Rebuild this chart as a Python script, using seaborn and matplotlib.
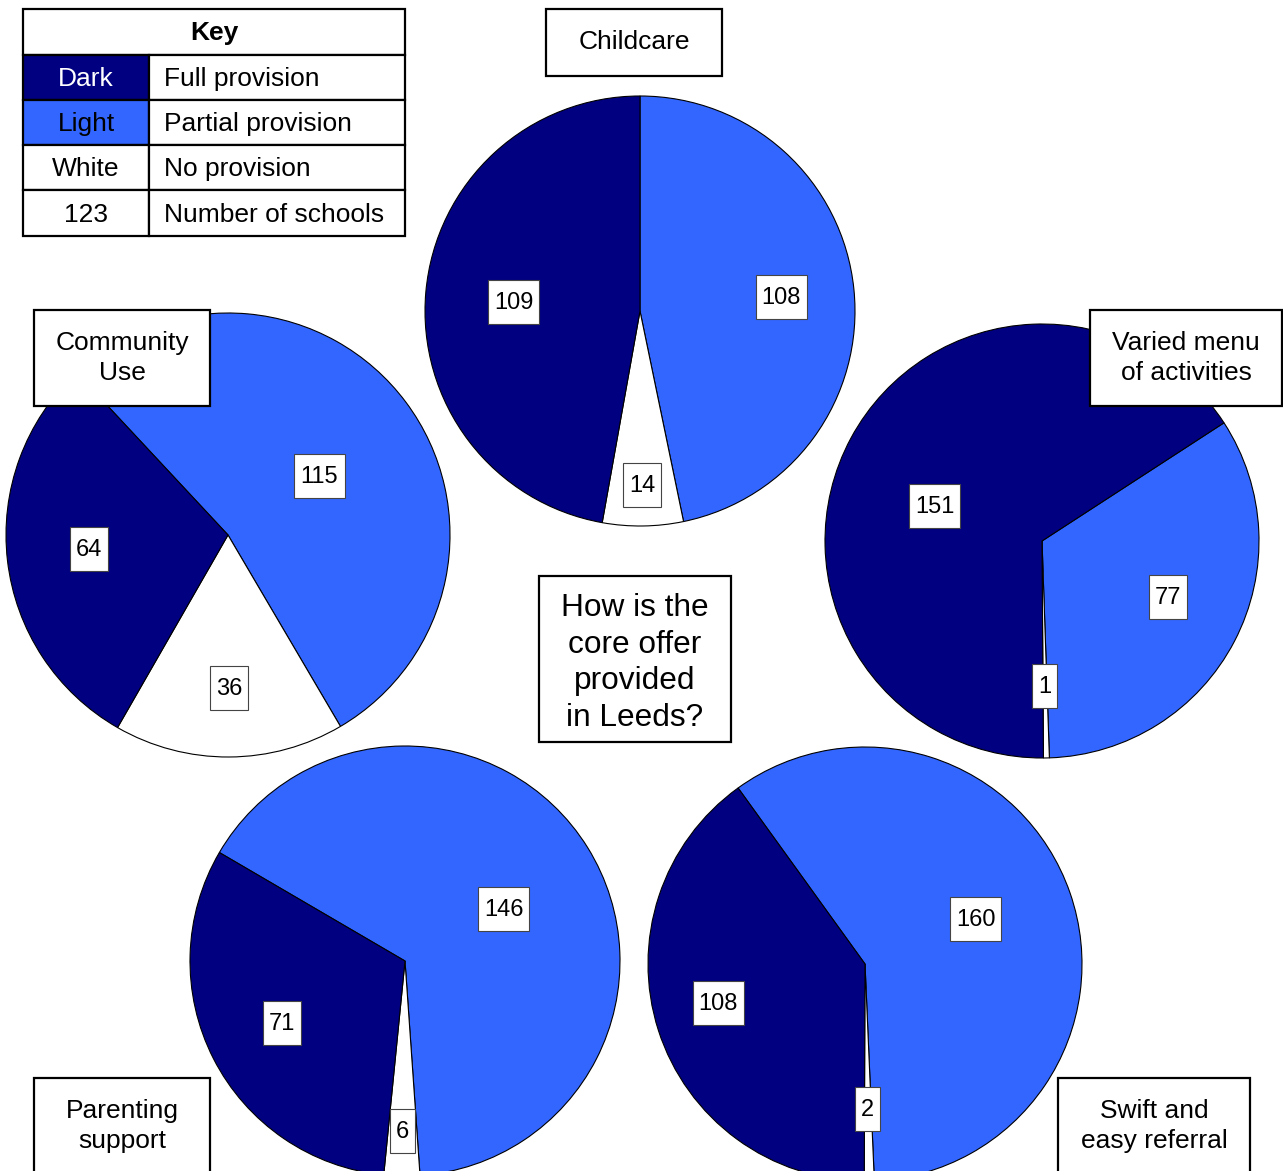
import numpy as np
import matplotlib
matplotlib.use("Agg")
import matplotlib.pyplot as plt
from matplotlib.patches import Rectangle
import seaborn as sns

# data: number of schools per provision level, order = partial, none, full
topics = ["Childcare", "Varied menu\nof activities", "Community\nUse",
          "Parenting\nsupport", "Swift and\neasy referral"]
partial_provision = [108, 77, 115, 146, 160]
no_provision = [14, 1, 36, 6, 2]
full_provision = [109, 151, 64, 71, 108]

key_swatch = ["Dark", "Light", "White", "123"]
key_meaning = ["Full provision", "Partial provision", "No provision", "Number of schools"]
centre_question = "How is the\ncore offer\nprovided\nin Leeds?"

W, H = 1283, 1171
DARK, LIGHT = "#000080", "#3366FF"

# layout in pixel coords (x, y from top)
pie_centres = [(640, 311), (1042, 541), (228, 535), (405, 961), (865, 964)]
pie_radii = [215, 217, 222, 215, 217]
pie_start = [90, 33, 133, 149.7, 125.8]
# label placement: fraction of radius and angle nudge (deg) per slice
label_r = [[0.66, 0.81, 0.59], [0.635, 0.67, 0.52], [0.49, 0.69, 0.63],
           [0.52, 0.79, 0.64], [0.55, 0.67, 0.70]]
label_nudge = [[0, 0, 1], [3.5, 0, 10], [-3.7, 0, -0.7],
               [-4, 0, 0], [3, 0, -2.8]]
title_boxes = [(546, 9, 722, 76), (1090, 310, 1282, 406), (34, 310, 210, 406),
               (34, 1078, 210, 1185), (1058, 1078, 1250, 1185)]
title_text_y = [42, 358, 358, 1126, 1126]

sns.set_theme(style="white")
plt.rcParams["font.family"] = ["Liberation Sans", "DejaVu Sans"]
plt.rcParams["text.color"] = "black"

fig = plt.figure(figsize=(W / 100, H / 100), dpi=100)
ax = fig.add_axes([0, 0, 1, 1])


def fy(y):
    return H - y


def box(x0, y0, x1, y1, lw=1.6, fc="white", ec="black", z=5):
    ax.add_patch(Rectangle((x0, fy(y1)), x1 - x0, y1 - y0, facecolor=fc,
                           edgecolor=ec, linewidth=lw, zorder=z))


for i in range(len(topics)):
    vals = [partial_provision[i], no_provision[i], full_provision[i]]
    cx, cy = pie_centres[i]
    r = pie_radii[i]
    wedges, _ = ax.pie(vals, colors=[LIGHT, "white", DARK], startangle=pie_start[i],
                       counterclock=False, center=(cx, fy(cy)), radius=r,
                       wedgeprops=dict(edgecolor="black", linewidth=0.8))
    for w, v, lr, nd in zip(wedges, vals, label_r[i], label_nudge[i]):
        mid = np.deg2rad((w.theta1 + w.theta2) / 2 + nd)
        lx = cx + lr * r * np.cos(mid)
        ly = cy - lr * r * np.sin(mid)
        bw = 13 * len(str(v)) + 12
        box(lx - bw / 2, ly - 22, lx + bw / 2, ly + 22, lw=0.8, ec="#444444", z=6)
        ax.text(lx, fy(ly + 1), str(v), ha="center", va="center", fontsize=17, zorder=7)

# topic boxes
for t, (x0, y0, x1, y1), ty in zip(topics, title_boxes, title_text_y):
    box(x0, y0, x1, y1)
    ax.text((x0 + x1) / 2, fy(ty), t, ha="center", va="center", fontsize=19,
            linespacing=1.3, zorder=7)

# centre question
box(539, 576, 731, 742)
ax.text(635, fy(663), centre_question, ha="center", va="center", fontsize=22.8,
        linespacing=1.3, zorder=7)

# key table
kx0, kx1, kxm = 23, 405, 149
rows = [9, 55, 100, 145, 190, 236]
box(kx0, rows[0], kx1, rows[1])
ax.text((kx0 + kx1) / 2, fy((rows[0] + rows[1]) / 2 + 1), "Key", ha="center", va="center",
        fontsize=19, fontweight="bold", zorder=7)
swatch_fc = [DARK, LIGHT, "white", "white"]
swatch_tc = ["white", "black", "black", "black"]
for j in range(len(key_swatch)):
    y0, y1 = rows[j + 1], rows[j + 2]
    box(kx0, y0, kxm, y1, fc=swatch_fc[j])
    box(kxm, y0, kx1, y1)
    ax.text((kx0 + kxm) / 2, fy((y0 + y1) / 2 + 1.5), key_swatch[j], ha="center",
            va="center", fontsize=19, color=swatch_tc[j], zorder=7)
    ax.text(kxm + 15, fy((y0 + y1) / 2 + 1.5), key_meaning[j], ha="left", va="center",
            fontsize=19, zorder=7)

ax.set_xlim(0, W)
ax.set_ylim(0, H)
ax.set_aspect("equal")
ax.axis("off")
fig.savefig("out.png", dpi=100, facecolor="white")
